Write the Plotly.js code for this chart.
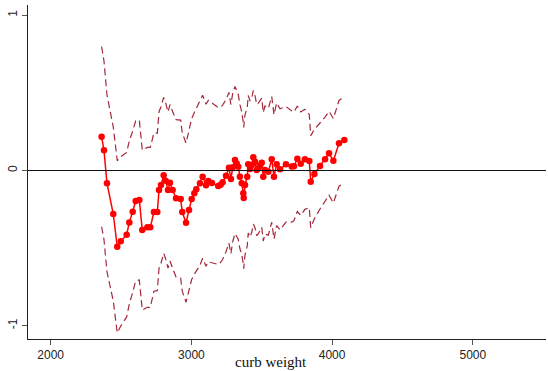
<!DOCTYPE html>
<html>
<head>
<meta charset="utf-8">
<script src="https://cdn.plot.ly/plotly-3.0.1.min.js"></script>
<style>html,body{margin:0;padding:0;background:#fff;}#chart{width:548px;height:371px;}</style>
</head>
<body>
<div id="chart"></div>
<script>
var curbWeight = [2362,2379,2400,2445,2473,2498,2540,2559,2583,2604,2630,2651,2687,2708,2734,2758,2770,2784,2803,2817,2834,2848,2867,2891,2924,2935,2962,2983,3002,3021,3035,3061,3080,3104,3120,3146,3191,3208,3222,3246,3267,3281,3294,3310,3322,3333,3345,3358,3369,3372,3381,3397,3404,3417,3429,3440,3452,3464,3476,3488,3500,3511,3523,3547,3571,3587,3606,3630,3672,3713,3729,3753,3777,3807,3838,3848,3874,3914,3950,3978,4009,4049,4087];
var fitValue = [0.218,0.130,-0.082,-0.280,-0.491,-0.456,-0.413,-0.334,-0.265,-0.196,-0.190,-0.383,-0.366,-0.366,-0.267,-0.267,-0.126,-0.093,-0.031,-0.066,-0.126,-0.079,-0.126,-0.179,-0.184,-0.267,-0.336,-0.254,-0.184,-0.147,-0.121,-0.082,-0.040,-0.095,-0.068,-0.080,-0.100,-0.091,-0.076,-0.033,0.018,-0.055,0.021,0.068,0.046,0.024,-0.040,-0.082,-0.147,-0.177,-0.093,-0.040,0.040,0.010,0.035,0.085,0.057,0.003,0.014,0.033,0.050,-0.040,0.003,-0.008,0.072,-0.040,0.040,0.008,0.040,0.026,0.027,0.076,0.044,0.072,0.061,-0.072,-0.023,0.029,0.072,0.111,0.063,0.175,0.196];
var upperBand = [0.798,0.705,0.488,0.280,0.063,0.089,0.117,0.191,0.255,0.319,0.325,0.132,0.149,0.149,0.243,0.240,0.379,0.411,0.471,0.436,0.377,0.425,0.379,0.328,0.325,0.243,0.176,0.261,0.334,0.374,0.403,0.446,0.485,0.427,0.452,0.435,0.405,0.409,0.421,0.457,0.503,0.425,0.499,0.542,0.517,0.491,0.424,0.378,0.309,0.278,0.359,0.406,0.483,0.448,0.468,0.515,0.482,0.425,0.434,0.451,0.466,0.374,0.415,0.400,0.477,0.360,0.435,0.398,0.412,0.384,0.377,0.416,0.377,0.394,0.361,0.224,0.265,0.306,0.344,0.381,0.335,0.451,0.473];
var lowerBand = [-0.362,-0.445,-0.652,-0.840,-1.045,-1.001,-0.943,-0.859,-0.785,-0.711,-0.705,-0.898,-0.881,-0.881,-0.777,-0.774,-0.631,-0.597,-0.533,-0.568,-0.629,-0.583,-0.631,-0.686,-0.693,-0.777,-0.848,-0.769,-0.702,-0.668,-0.645,-0.610,-0.565,-0.617,-0.588,-0.595,-0.605,-0.591,-0.573,-0.523,-0.467,-0.535,-0.457,-0.406,-0.425,-0.443,-0.504,-0.542,-0.603,-0.632,-0.545,-0.486,-0.403,-0.428,-0.398,-0.345,-0.368,-0.419,-0.406,-0.385,-0.366,-0.454,-0.409,-0.416,-0.333,-0.440,-0.355,-0.382,-0.332,-0.332,-0.323,-0.264,-0.289,-0.250,-0.239,-0.368,-0.311,-0.248,-0.200,-0.159,-0.209,-0.101,-0.081];
var xTicks = [2000,3000,4000,5000];
var yTicks = [-1,0,1];
var xTitle = "curb weight";

var bandColor = "#a3293a";
var traces = [
  {x: curbWeight, y: upperBand, type: "scatter", mode: "lines",
   line: {color: bandColor, width: 1.2, dash: "7px,4px"}, hoverinfo: "skip"},
  {x: curbWeight, y: lowerBand, type: "scatter", mode: "lines",
   line: {color: bandColor, width: 1.2, dash: "7px,4px"}, hoverinfo: "skip"},
  {x: curbWeight, y: fitValue, type: "scatter", mode: "lines+markers",
   line: {color: "#ff0000", width: 1.5},
   marker: {color: "#ff0000", size: 6.5, symbol: "circle"}}
];

var layout = {
  width: 548, height: 371,
  margin: {l: 28, r: 2, t: 5, b: 32, pad: 0},
  paper_bgcolor: "#ffffff", plot_bgcolor: "#ffffff",
  showlegend: false,
  font: {family: "Liberation Sans, Arial, sans-serif", size: 12, color: "#222"},
  xaxis: {
    range: [1839, 5520], tickvals: xTicks, ticktext: xTicks.map(String),
    showgrid: false, zeroline: false, showline: true, linecolor: "#222", linewidth: 1,
    ticks: "outside", ticklen: 5, tickcolor: "#555", tickwidth: 1,
    tickfont: {size: 12, color: "#222"}
  },
  yaxis: {
    range: [-1.085, 1.066], tickvals: yTicks, ticktext: yTicks.map(String),
    showgrid: false, zeroline: false, showline: true, linecolor: "#222", linewidth: 1,
    ticks: "outside", ticklen: 5, tickcolor: "#555", tickwidth: 1, tickangle: -90,
    tickfont: {size: 12, color: "#222"}
  },
  shapes: [
    {type: "line", xref: "paper", x0: 0, x1: 1, yref: "y", y0: 0, y1: 0,
     line: {color: "#111", width: 1}}
  ],
  annotations: [
    {text: xTitle, xref: "paper", x: 0.469, yref: "paper", y: -0.069,
     xanchor: "center", yanchor: "middle", showarrow: false,
     font: {family: "Liberation Serif, DejaVu Serif, serif", size: 15, color: "#111"}}
  ]
};

Plotly.newPlot("chart", traces, layout, {displayModeBar: false, staticPlot: true});
</script>
</body>
</html>
